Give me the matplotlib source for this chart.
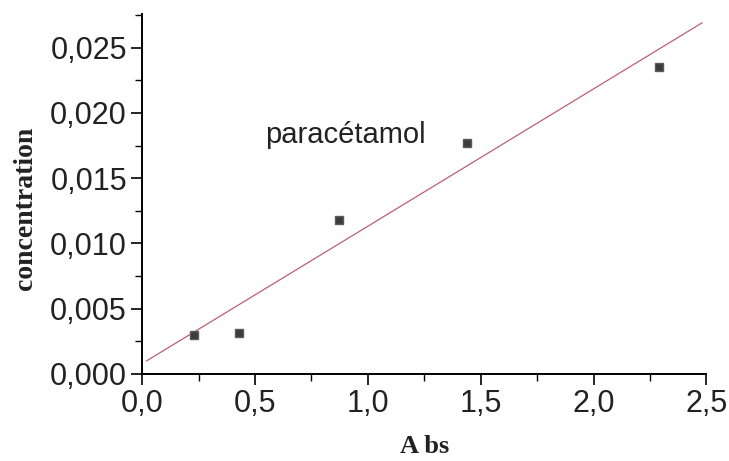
import matplotlib
matplotlib.use("Agg")
import matplotlib.pyplot as plt
from matplotlib.ticker import MultipleLocator, FuncFormatter

# calibration points: absorbance vs concentration
absorbance = [0.23, 0.43, 0.87, 1.44, 2.29]
concentration = [0.0030, 0.0031, 0.0118, 0.0177, 0.0235]

# fitted line end points
fit_x = [0.02, 2.48]
fit_y = [0.0010, 0.0269]

fig = plt.figure(figsize=(7.29, 4.61), dpi=100)
ax = fig.add_axes([0.195, 0.189, 0.774, 0.781])

ax.plot(fit_x, fit_y, color="#bb6074", lw=0.9)
ax.plot(absorbance, concentration, ls="none", marker="s", ms=5.5,
        color="#3c3c3c", mec="#5a5a5a")

ax.set_xlim(0, 2.5)
ax.set_ylim(0, 0.0276)

ax.spines["top"].set_visible(False)
ax.spines["right"].set_visible(False)
ax.spines["left"].set_linewidth(1.4)
ax.spines["bottom"].set_linewidth(1.4)

ax.xaxis.set_major_locator(MultipleLocator(0.5))
ax.xaxis.set_minor_locator(MultipleLocator(0.25))
ax.yaxis.set_major_locator(MultipleLocator(0.005))
ax.yaxis.set_minor_locator(MultipleLocator(0.0025))

ax.xaxis.set_major_formatter(FuncFormatter(lambda v, p: f"{v:.1f}".replace(".", ",")))
ax.yaxis.set_major_formatter(FuncFormatter(lambda v, p: f"{v:.3f}".replace(".", ",")))

ax.tick_params(which="major", direction="out", length=8, width=1.2, pad=3,
               labelsize=22)
ax.tick_params(which="minor", direction="out", length=5, width=1.0)
for lab in ax.get_xticklabels() + ax.get_yticklabels():
    lab.set_fontfamily("Liberation Sans")
    lab.set_color("#222222")

ax.text(0.545, 0.0183, "paracétamol", fontsize=21, family="Liberation Sans",
        color="#222222", va="center", ha="left")

ax.set_ylabel("concentration", fontsize=20, fontweight="bold",
              family="Liberation Serif", color="#222222")
ax.yaxis.set_label_coords(-0.185, 0.46)
ax.set_xlabel("A bs", fontsize=19, fontweight="bold",
              family="Liberation Serif", color="#222222")
ax.xaxis.set_label_coords(0.5, -0.17)

fig.savefig("out.png", dpi=100)
